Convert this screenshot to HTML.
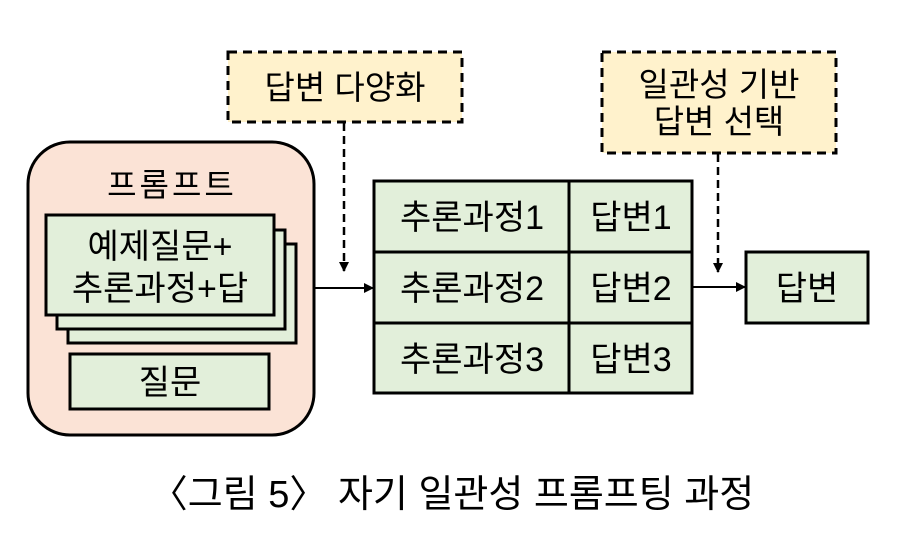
<!DOCTYPE html>
<html><head><meta charset="utf-8"><style>
html,body{margin:0;padding:0;background:#fff;}
svg text{font-family:"Liberation Sans","Noto Sans CJK KR",sans-serif;fill:#000;}
</style></head><body>
<svg width="910" height="537" viewBox="0 0 910 537" xmlns="http://www.w3.org/2000/svg">
<defs><marker id="a" markerWidth="10" markerHeight="10" refX="9" refY="5" orient="auto" markerUnits="userSpaceOnUse"><path d="M0,0 L10,5 L0,10 z" fill="#000"/></marker></defs>
<rect x="28" y="142" width="286" height="293" rx="42" fill="#fbe3d6" stroke="#000" stroke-width="3"/>
<text x="172" y="196" font-size="32" text-anchor="middle" letter-spacing="3">프롬프트</text>
<rect x="68" y="244" width="228" height="99" fill="#e2efda" stroke="#000" stroke-width="3"/>
<rect x="57" y="230" width="228" height="99" fill="#e2efda" stroke="#000" stroke-width="3"/>
<rect x="46" y="215" width="228" height="100" fill="#e2efda" stroke="#000" stroke-width="3"/>
<text x="160" y="258" font-size="34" text-anchor="middle">예제질문+</text>
<text x="160" y="300" font-size="34" text-anchor="middle">추론과정+답</text>
<rect x="70" y="354" width="199" height="55" fill="#e2efda" stroke="#000" stroke-width="3"/>
<text x="170" y="394" font-size="34" text-anchor="middle">질문</text>
<rect x="228" y="52" width="234" height="70" fill="#fff2cc" stroke="#000" stroke-width="3" stroke-dasharray="9,6"/>
<text x="345" y="99" font-size="33" text-anchor="middle">답변 다양화</text>
<line x1="344" y1="123" x2="344" y2="271" stroke="#000" stroke-width="2.5" stroke-dasharray="8,5" marker-end="url(#a)"/>
<line x1="314" y1="288" x2="373" y2="288" stroke="#000" stroke-width="2" marker-end="url(#a)"/>
<rect x="374" y="181" width="318" height="212" fill="#e2efda" stroke="#000" stroke-width="3"/>
<line x1="569" y1="181" x2="569" y2="393" stroke="#000" stroke-width="3"/>
<line x1="374" y1="252" x2="692" y2="252" stroke="#000" stroke-width="3"/>
<line x1="374" y1="323" x2="692" y2="323" stroke="#000" stroke-width="3"/>
<g font-size="34" text-anchor="middle">
<text x="472" y="229">추론과정1</text><text x="631" y="229">답변1</text>
<text x="472" y="300">추론과정2</text><text x="631" y="300">답변2</text>
<text x="472" y="371">추론과정3</text><text x="631" y="371">답변3</text>
</g>
<rect x="602" y="52" width="234" height="101" fill="#fff2cc" stroke="#000" stroke-width="3" stroke-dasharray="9,6"/>
<text x="719" y="96" font-size="33" text-anchor="middle">일관성 기반</text>
<text x="719" y="133" font-size="33" text-anchor="middle">답변 선택</text>
<line x1="718" y1="154" x2="718" y2="272" stroke="#000" stroke-width="2.5" stroke-dasharray="8,5" marker-end="url(#a)"/>
<line x1="692" y1="287" x2="745" y2="287" stroke="#000" stroke-width="2" marker-end="url(#a)"/>
<rect x="746" y="252" width="122" height="71" fill="#e2efda" stroke="#000" stroke-width="3"/>
<text x="807" y="300" font-size="34" text-anchor="middle">답변</text>
<text x="452" y="507" font-size="38" text-anchor="middle">〈그림 5〉 자기 일관성 프롬프팅 과정</text>
</svg>
</body></html>
